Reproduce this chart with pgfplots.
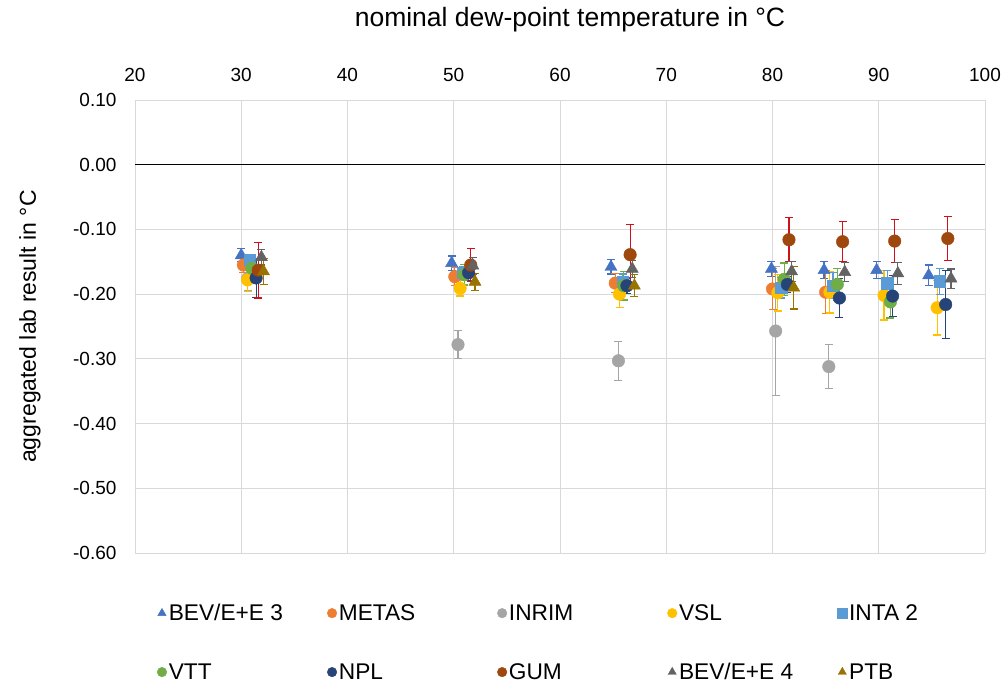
\documentclass[border=0pt]{standalone}
\usepackage{pgfplots}
\pgfplotsset{compat=1.18}
\usepackage{pgfplotstable}
\usepackage{fontspec}
\setmainfont{Liberation Sans}
\definecolor{cBEVa}{HTML}{4472C4}
\definecolor{cMETAS}{HTML}{ED7D31}
\definecolor{cINRIM}{HTML}{A5A5A5}
\definecolor{cVSL}{HTML}{FFC000}
\definecolor{cINTA}{HTML}{5B9BD5}
\definecolor{cVTT}{HTML}{70AD47}
\definecolor{cNPL}{HTML}{264478}
\definecolor{cGUM}{HTML}{9E480E}
\definecolor{cGUMerr}{HTML}{D0101A}
\definecolor{cBEVb}{HTML}{636363}
\definecolor{cPTB}{HTML}{997300}

\pgfplotstableread{
x y e
30.0 -0.140 0.010
49.8 -0.152 0.011
64.8 -0.158 0.011
79.9 -0.161 0.012
84.85 -0.163 0.013
89.8 -0.163 0.013
94.7 -0.171 0.016
}\tBEVa
\pgfplotstableread{
x y e
30.2 -0.155 0.012
50.1 -0.173 0.014
65.2 -0.183 0.015
80.0 -0.192 0.032
85.0 -0.197 0.033
}\tMETAS
\pgfplotstableread{
x y e
30.6 -0.176 0.018
50.4 -0.278 0.022
65.5 -0.303 0.030
80.3 -0.257 0.100
85.3 -0.312 0.034
}\tINRIM
\pgfplotstableread{
x y e
30.6 -0.178 0.018
50.6 -0.191 0.012
65.6 -0.200 0.021
80.5 -0.198 0.028
85.4 -0.197 0.032
90.5 -0.202 0.038
95.5 -0.221 0.042
}\tVSL
\pgfplotstableread{
x y e
30.8 -0.147 0.008
50.9 -0.167 0.010
65.9 -0.181 0.012
80.8 -0.190 0.016
85.7 -0.187 0.020
90.8 -0.183 0.020
95.75 -0.180 0.020
}\tINTA
\pgfplotstableread{
x y e
31.0 -0.160 0.015
51.0 -0.170 0.016
66.0 -0.187 0.022
81.1 -0.177 0.025
86.1 -0.185 0.025
91.1 -0.212 0.025
}\tVTT
\pgfplotstableread{
x y e
31.4 -0.175 0.030
51.4 -0.167 0.012
66.3 -0.187 0.012
81.4 -0.185 0.012
86.3 -0.206 0.030
91.3 -0.203 0.032
96.3 -0.216 0.052
}\tNPL
\pgfplotstableread{
x y e
31.6 -0.163 0.043
51.6 -0.155 0.025
66.6 -0.139 0.047
81.55 -0.116 0.034
86.6 -0.119 0.031
91.5 -0.118 0.033
96.5 -0.114 0.034
}\tGUM
\pgfplotstableread{
x y e
31.9 -0.143 0.012
51.8 -0.156 0.013
66.8 -0.161 0.013
81.8 -0.165 0.015
86.8 -0.166 0.015
91.8 -0.168 0.017
96.8 -0.176 0.015
}\tBEVb
\pgfplotstableread{
x y e
32.1 -0.165 0.020
52.0 -0.181 0.013
67.0 -0.187 0.017
82.0 -0.190 0.033
}\tPTB

\pgfplotsset{
  ser/.style n args={4}{only marks, mark=#1, color=#2, mark options={fill=#2, draw=#2},
    mark size=#3,
    error bars/.cd, y dir=both, y explicit, error mark=-,
    error bar style={color=#4, line width=1.2bp},
    error mark options={rotate=90, color=#4, draw=#4, mark size=4bp, line width=1.2bp}},
}
\begin{document}
\begin{tikzpicture}
\useasboundingbox (-135bp,-130bp) rectangle (870bp,553bp);
\begin{axis}[
  at={(0,0)}, anchor=south west,
  scale only axis, width=850bp, height=453bp,
  xmin=20, xmax=100, ymin=-0.6, ymax=0.1,
  xtick={20,30,40,50,60,70,80,90,100},
  ytick={-0.6,-0.5,-0.4,-0.3,-0.2,-0.1,0,0.1},
  yticklabels={-0.60,-0.50,-0.40,-0.30,-0.20,-0.10,0.00,0.10},
  xticklabel pos=right,
  grid=major,
  major grid style={draw=black!15, line width=0.9bp},
  axis line style={draw=none},
  major tick length=0pt,
  tick label style={font=\fontsize{19bp}{22bp}\selectfont, text=black},
  /pgf/number format/assume math mode=true,
  xticklabel style={yshift=15bp},
  yticklabel style={xshift=-15bp},
  xlabel={nominal dew-point temperature in °C},
  ylabel={aggregated lab result in °C},
  xlabel style={at={([yshift=80bp,xshift=10bp]axis description cs:0.5,1)}, anchor=center, font=\fontsize{26.5bp}{29bp}\selectfont},
  ylabel style={at={([xshift=-105bp]axis description cs:0,0.5)}, anchor=center, font=\fontsize{23bp}{26bp}\selectfont},
  clip=false,
  legend columns=5,
  legend cell align=left,
  legend image code/.code={\draw[#1, mark size=4.8bp] plot coordinates {(0bp,0bp)};},
  legend style={draw=none, fill=none, at={([xshift=19bp,yshift=-47bp]axis description cs:0,0)}, anchor=north west,
    font=\fontsize{22.7bp}{26bp}\selectfont, row sep=37bp,
    /tikz/every even column/.append style={column sep=7bp}},
]
\addplot[ser={triangle*}{cBEVa}{7bp}{cBEVa}] table[x=x,y=y,y error=e]{\tBEVa};
\addlegendentry{\makebox[149.5bp][l]{BEV/E+E 3}}
\addplot[ser={*}{cMETAS}{6.3bp}{cMETAS}] table[x=x,y=y,y error=e]{\tMETAS};
\addlegendentry{\makebox[149.5bp][l]{METAS}}
\addplot[ser={*}{cINRIM}{6.3bp}{cINRIM}] table[x=x,y=y,y error=e]{\tINRIM};
\addlegendentry{\makebox[149.5bp][l]{INRIM}}
\addplot[ser={*}{cVSL}{6.3bp}{cVSL}] table[x=x,y=y,y error=e]{\tVSL};
\addlegendentry{\makebox[149.5bp][l]{VSL}}
\addplot[ser={square*}{cINTA}{5.8bp}{cINTA}] table[x=x,y=y,y error=e]{\tINTA};
\addlegendentry{\makebox[149.5bp][l]{INTA 2}}
\addplot[ser={*}{cVTT}{6.3bp}{cVTT}] table[x=x,y=y,y error=e]{\tVTT};
\addlegendentry{\makebox[149.5bp][l]{VTT}}
\addplot[ser={*}{cNPL}{6.3bp}{cNPL}] table[x=x,y=y,y error=e]{\tNPL};
\addlegendentry{\makebox[149.5bp][l]{NPL}}
\addplot[ser={*}{cGUM}{6.3bp}{cGUMerr}] table[x=x,y=y,y error=e]{\tGUM};
\addlegendentry{\makebox[149.5bp][l]{GUM}}
\addplot[ser={triangle*}{cBEVb}{7bp}{cBEVb}] table[x=x,y=y,y error=e]{\tBEVb};
\addlegendentry{\makebox[149.5bp][l]{BEV/E+E 4}}
\addplot[ser={triangle*}{cPTB}{7bp}{cPTB}] table[x=x,y=y,y error=e]{\tPTB};
\addlegendentry{\makebox[149.5bp][l]{PTB}}
\draw[black, line width=1.3bp] (axis cs:20,0) -- (axis cs:100,0);
\end{axis}
\end{tikzpicture}
\end{document}
